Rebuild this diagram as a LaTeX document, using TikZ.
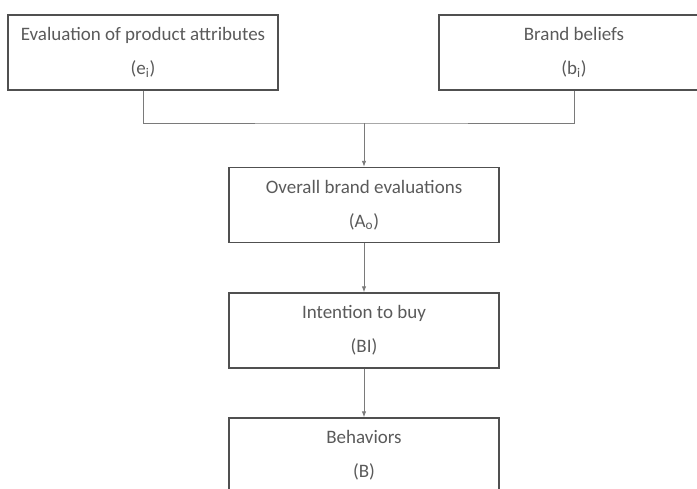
\documentclass[tikz,border=0pt]{standalone}
\usepackage{fontspec}
\setmainfont{Carlito}
\usetikzlibrary{arrows.meta}
\definecolor{boxline}{HTML}{505050}
\definecolor{linkline}{HTML}{7A7A7A}
\definecolor{labeltext}{HTML}{5A5A5A}
\begin{document}
\begin{tikzpicture}[x=1pt,y=-1pt,
  stage/.style={draw=boxline, line width=1.4pt, rectangle, minimum width=270pt,
    minimum height=75pt, align=center, text=labeltext,
    font=\fontsize{19}{34}\selectfont, inner sep=0pt},
  link/.style={draw=linkline, line width=0.9pt},
  flow/.style={link, -{Latex[length=6pt,width=4.5pt]}}]
  \useasboundingbox (0,0) rectangle (697,488);
  \node[stage] (eval)    at (143,52.5)  {Evaluation of product attributes\\(e\textsubscript{i})};
  \node[stage] (belief)  at (574,52.5)  {Brand beliefs\\(b\textsubscript{i})};
  \node[stage] (overall) at (364,205)   {Overall brand evaluations\\(A\textsubscript{o})};
  \node[stage] (intent)  at (364,330.5) {Intention to buy\\(BI)};
  \node[stage] (behav)   at (364,455.5) {Behaviors\\(B)};
  \coordinate (join) at (364,123);
  \draw[link] (eval.south) |- (join) -| (belief.south);
  \draw[flow] (join) -- (overall.north);
  \draw[flow] (overall.south) -- (intent.north);
  \draw[flow] (intent.south) -- (behav.north);
\end{tikzpicture}
\end{document}
